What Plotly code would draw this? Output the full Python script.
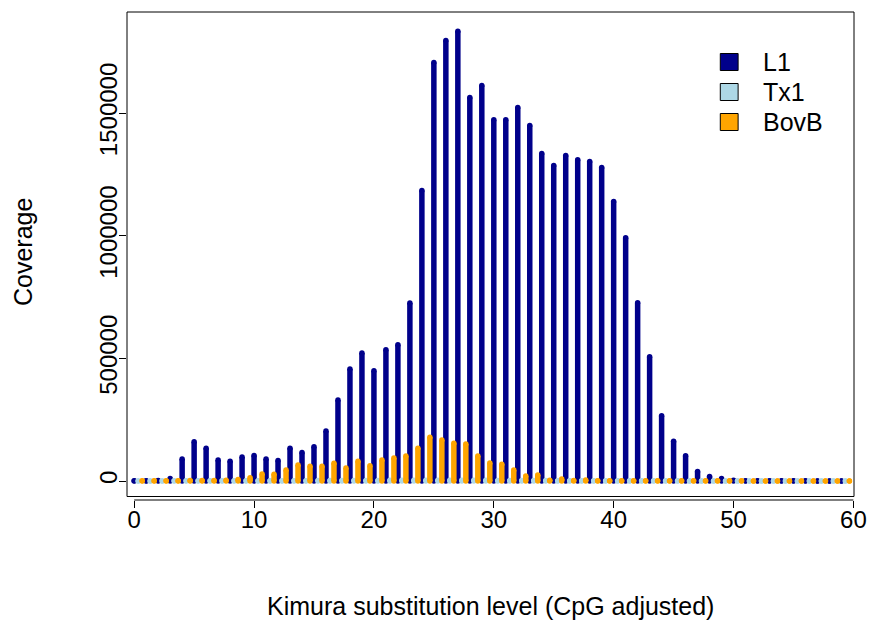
import plotly.graph_objects as go

# Kimura substitution levels (bin start)
kimura = list(range(0, 60))

L1 = [500, 1000, 2000, 10000, 90000, 160000, 133000, 86000, 80000, 98000,
      104000, 90000, 84000, 133000, 116000, 140000, 204000, 330000, 457000, 522000,
      449000, 535000, 555000, 726000, 1184000, 1706000, 1796000, 1833000, 1563000, 1612000,
      1473000, 1473000, 1522000, 1449000, 1335000, 1286000, 1327000, 1310000, 1302000, 1278000,
      1139000, 992000, 727000, 506000, 266000, 162000, 103000, 39000, 18000, 10000,
      3000, 1500, 1000, 800, 700, 600, 500, 400, 300, 300]

Tx1 = [200, 300, 400, 500, 600, 700, 800, 900, 1000, 1100,
       1200, 1300, 1400, 1500, 1500, 1600, 1800, 2000, 2200, 2400,
       2500, 2600, 2800, 3000, 3200, 3300, 3200, 3000, 2800, 2600,
       2400, 2200, 2000, 1800, 1600, 1500, 1400, 1300, 1200, 1100,
       1000, 900, 800, 700, 600, 500, 400, 300, 300, 200,
       200, 200, 100, 100, 100, 100, 100, 100, 100, 100]

BovB = [1000, 1000, 1500, 1500, 2000, 2000, 2500, 3000, 6000, 13600,
        28600, 27000, 45000, 65000, 60000, 60000, 72000, 53000, 80000, 62600,
        85700, 93900, 102000, 133000, 178000, 167000, 154000, 151000, 102000, 73500,
        68000, 45000, 20400, 24500, 3000, 8000, 2000, 4000, 1500, 1500,
        1400, 1300, 1200, 1100, 1000, 900, 800, 700, 600, 500,
        500, 400, 400, 300, 300, 300, 200, 200, 200, 200]

series_names = ["L1", "Tx1", "BovB"]
series_values = [L1, Tx1, BovB]
series_offsets = [0.0, 1.0 / 3.0, 2.0 / 3.0]
series_colors = ["#00008B", "#ADD8E6", "#FFA500"]

x_ticks = [0, 10, 20, 30, 40, 50, 60]
y_ticks = [0, 500000, 1000000, 1500000]
y_ticklabels = ["0", "500000", "1000000", "1500000"]

FONT = "Liberation Sans, Arial, Helvetica, sans-serif"
FS_TICK = 24
FS_TEXT = 25
LW = 5.5

fig = go.Figure()
for name, vals, off, col in zip(series_names, series_values, series_offsets, series_colors):
    xs, ys = [], []
    for k, v in zip(kimura, vals):
        xs += [k + off, k + off, None]
        ys += [0, v, None]
    fig.add_trace(go.Scatter(
        x=xs, y=ys, mode="lines+markers", name=name,
        line=dict(color=col, width=LW),
        marker=dict(color=col, size=LW, line=dict(width=0)),
        showlegend=False, hoverinfo="skip", cliponaxis=True,
    ))

# plot area: top 12 px, axis line at 500 px, box bottom at 496.5 px
PLOT_H = 488.0
dom0 = 3.5 / PLOT_H
yr = [-63200, 1911800]

fig.update_layout(
    width=879, height=623,
    margin=dict(l=127, r=18, t=12, b=123),
    paper_bgcolor="white", plot_bgcolor="white",
    font=dict(family=FONT, size=FS_TICK, color="black"),
    xaxis=dict(range=[-0.6, 60.05], showgrid=False, zeroline=False, showline=False,
               ticks="outside", ticklen=7, tickwidth=1, tickcolor="black",
               tickvals=x_ticks, ticktext=[str(t) for t in x_ticks],
               tickfont=dict(family=FONT, size=FS_TICK), anchor="free", position=0,
               ticklabelstandoff=-9),
    yaxis=dict(domain=[dom0, 1], range=yr, showgrid=False, zeroline=False, showline=False,
               ticks="outside", ticklen=7, tickwidth=1, tickcolor="black",
               tickvals=y_ticks, ticktext=y_ticklabels, tickangle=-90,
               tickfont=dict(family=FONT, size=FS_TICK), ticklabelstandoff=-8),
    shapes=[
        dict(type="rect", xref="paper", yref="paper", x0=0, x1=1, y0=dom0, y1=1,
             line=dict(color="black", width=1)),
        dict(type="line", xref="x", yref="paper", x0=x_ticks[0], x1=x_ticks[-1], y0=0, y1=0,
             line=dict(color="black", width=1)),
    ],
)

# axis titles
fig.add_annotation(text="Kimura substitution level (CpG adjusted)", xref="paper", yref="paper",
                   x=0.5, y=-(606 - 500) / PLOT_H, xanchor="center", yanchor="middle", showarrow=False,
                   font=dict(family=FONT, size=FS_TEXT))
fig.add_annotation(text="Coverage", xref="paper", yref="paper", x=-(127 - 22) / 734.0,
                   y=1 - (252 - 12) / PLOT_H,
                   xanchor="center", yanchor="middle", textangle=-90, showarrow=False,
                   font=dict(family=FONT, size=FS_TEXT))

# legend (R style, no box)
leg_y = [62, 92, 122]
for name, col, yc in zip(series_names, series_colors, leg_y):
    yp = 1 - (yc - 12) / PLOT_H
    hp = 8.5 / PLOT_H
    x0 = (726 - 127) / 734.0
    x1 = (744 - 127) / 734.0
    fig.add_shape(type="rect", xref="paper", yref="paper", x0=x0, x1=x1, y0=yp - hp, y1=yp + hp,
                  line=dict(color="black", width=1), fillcolor=col)
    fig.add_annotation(text=name, xref="paper", yref="paper", x=(767 - 127) / 734.0, y=yp,
                       xanchor="left", yanchor="middle", showarrow=False,
                       font=dict(family=FONT, size=FS_TEXT))

fig.write_html("out.html")
